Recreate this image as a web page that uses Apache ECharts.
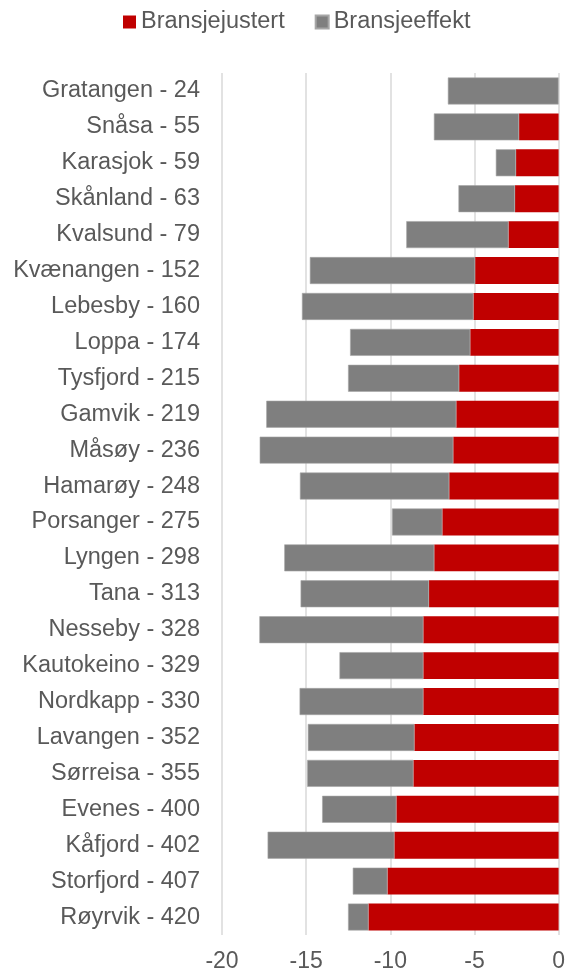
<!DOCTYPE html>
<html>
<head>
<meta charset="utf-8">
<script src="https://cdn.jsdelivr.net/npm/echarts@6/dist/echarts.min.js"></script>
<style>
  html, body { margin: 0; padding: 0; background: #fff; }
  #chart { width: 568px; height: 974px; }
</style>
</head>
<body>
<div id="chart"></div>
<script>
// Municipalities (with rank) shown top to bottom
const categories = [
  'Gratangen - 24', 'Snåsa - 55', 'Karasjok - 59', 'Skånland - 63', 'Kvalsund - 79',
  'Kvænangen - 152', 'Lebesby - 160', 'Loppa - 174', 'Tysfjord - 215', 'Gamvik - 219',
  'Måsøy - 236', 'Hamarøy - 248', 'Porsanger - 275', 'Lyngen - 298', 'Tana - 313',
  'Nesseby - 328', 'Kautokeino - 329', 'Nordkapp - 330', 'Lavangen - 352', 'Sørreisa - 355',
  'Evenes - 400', 'Kåfjord - 402', 'Storfjord - 407', 'Røyrvik - 420'
];

// Industry-adjusted component
const bransjejustert = [
  0, -2.35, -2.53, -2.59, -2.98,
  -4.96, -5.06, -5.25, -5.91, -6.08,
  -6.26, -6.50, -6.91, -7.39, -7.70,
  -8.04, -8.04, -8.04, -8.57, -8.63,
  -9.64, -9.76, -10.17, -11.30
];

// Industry effect component (stacked beyond the adjusted part)
const bransjeeffekt = [
  -6.58, -5.06, -1.20, -3.36, -6.07,
  -9.82, -10.19, -7.14, -6.60, -11.29,
  -11.50, -8.87, -2.99, -8.91, -7.63,
  -9.74, -4.98, -7.35, -6.33, -6.31,
  -4.41, -7.53, -2.06, -1.21
];

const xTicks = { min: -20, max: 0, interval: 5 };

const chart = echarts.init(document.getElementById('chart'));
chart.setOption({
  backgroundColor: '#ffffff',
  animation: false,
  textStyle: { fontFamily: 'Liberation Sans, Arial, sans-serif' },
  legend: {
    top: 10,
    left: 123,
    padding: 0,
    icon: 'rect',
    itemWidth: 13,
    itemHeight: 13,
    itemGap: 30,
    textStyle: { fontSize: 23.5, color: '#595959' },
    data: ['Bransjejustert', 'Bransjeeffekt']
  },
  grid: { left: 222, right: 9, top: 73, bottom: 39 },
  xAxis: {
    type: 'value',
    min: xTicks.min,
    max: xTicks.max,
    interval: xTicks.interval,
    axisLine: { show: false },
    axisTick: { show: false },
    axisLabel: { fontSize: 23, color: '#595959', margin: 15 },
    splitLine: { show: true, lineStyle: { color: '#d9d9d9', width: 1.5 } }
  },
  yAxis: {
    type: 'category',
    inverse: true,
    data: categories,
    axisLine: { show: false },
    axisTick: { show: false },
    axisLabel: { fontSize: 23.5, color: '#595959', margin: 22 }
  },
  series: [
    {
      name: 'Bransjejustert',
      type: 'bar',
      stack: 'total',
      barWidth: '75%',
      itemStyle: { color: '#c00000' },
      data: bransjejustert
    },
    {
      name: 'Bransjeeffekt',
      type: 'bar',
      stack: 'total',
      barWidth: '75%',
      itemStyle: { color: '#7f7f7f', borderColor: '#a6a6a6', borderWidth: 0.6 },
      data: bransjeeffekt
    }
  ]
});
</script>
</body>
</html>
